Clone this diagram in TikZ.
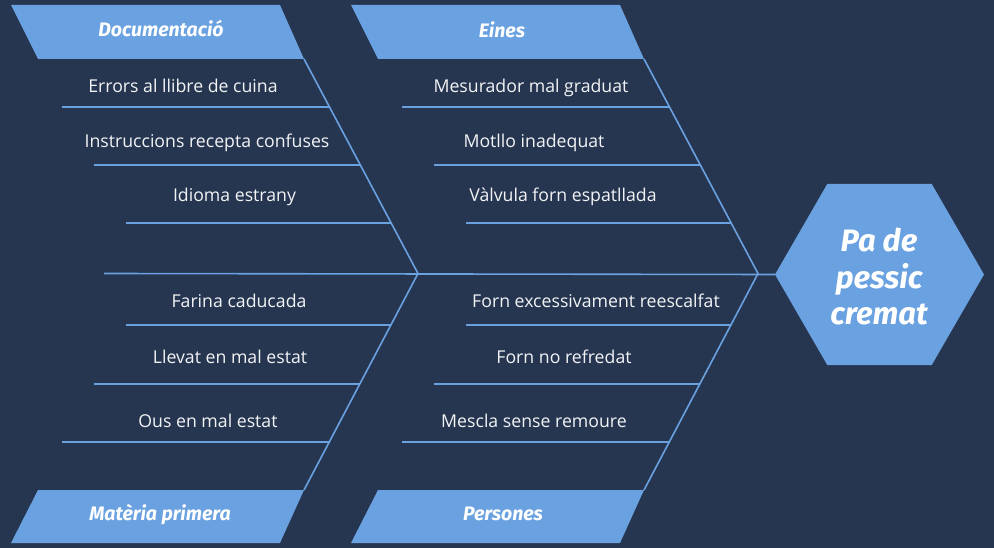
\documentclass[tikz,border=0pt]{standalone}
\usepackage{fontspec}
\setmainfont{Open Sans}
\newfontfamily\headfont{Fira Sans}
\usetikzlibrary{shapes.geometric}
\definecolor{navy}{RGB}{38,54,80}
\definecolor{fishblue}{RGB}{106,161,224}
\tikzset{
  bone/.style={draw=fishblue, line width=1.6pt},
  catbox/.style={fill=fishblue},
  cause/.style={anchor=base, text=white!94!navy, inner sep=0pt,
    font=\fontsize{17.7}{20}\selectfont},
  cathead/.style={anchor=base, text=white, inner sep=0pt,
    font=\headfont\bfseries\itshape\fontsize{19.5}{20}\selectfont},
}

\begin{document}
\begin{tikzpicture}[x=1pt,y=-1pt]
  \fill[navy] (0,0) rectangle (994,548);

  % category boxes
  \fill[catbox] (11,5) -- (280,5) -- (304,59) -- (38,59) -- cycle;
  \fill[catbox] (351,5) -- (620,5) -- (644,59) -- (378,59) -- cycle;
  \fill[catbox] (38,490) -- (304,490) -- (280,543) -- (11,543) -- cycle;
  \fill[catbox] (378,490) -- (644,490) -- (620,543) -- (351,543) -- cycle;
  \node[cathead] (doc) at (161,37) {Documentació};
  \node[cathead] (eines) at (502,37.5) {Eines};
  \node[cathead] (materia) at (160,520) {Matèria primera};
  \node[cathead] (persones) at (503,520.5) {Persones};

  % effect
  \node[regular polygon, regular polygon sides=6, minimum size=209pt,
    inner sep=0pt, fill=fishblue] (effect) at (879.5,274.5) {};
  \node[align=center, text=white, inner sep=0pt,
    font=\headfont\bfseries\itshape\fontsize{31}{36.5}\selectfont]
    (effectlabel) at (879,277) {Pa de\\pessic\\cremat};

  % spine and ribs
  \coordinate (tail) at (104,273.5);
  \coordinate (jleft) at (418,273.5);
  \coordinate (jmid) at (758,273.5);
  \coordinate (docend) at (304,59);
  \coordinate (einesend) at (644,59);
  \coordinate (materiaend) at (304,490);
  \coordinate (personesend) at (644,490);
  \draw[bone] (tail) -- (effect.west);
  \draw[bone] (docend) -- (jleft) -- (materiaend);
  \draw[bone] (einesend) -- (jmid) -- (personesend);

  % causes
  \draw[bone] (62,107) -- (330,107);
  \draw[bone] (94,165) -- (360,165);
  \draw[bone] (126,223) -- (391,223);
  \draw[bone] (126,325) -- (391,325);
  \draw[bone] (94,384) -- (360,384);
  \draw[bone] (62,442) -- (329,442);
  \draw[bone] (402,107) -- (670,107);
  \draw[bone] (434,165) -- (700,165);
  \draw[bone] (466,223) -- (731,223);
  \draw[bone] (466,325) -- (731,325);
  \draw[bone] (434,384) -- (700,384);
  \draw[bone] (402,442) -- (669,442);

  \node[cause] (c1) at (183,93) {Errors al llibre de cuina};
  \node[cause] (c2) at (207,148) {Instruccions recepta confuses};
  \node[cause] (c3) at (234.5,202) {Idioma estrany};
  \node[cause] (c4) at (239,308) {Farina caducada};
  \node[cause] (c5) at (230,363) {Llevat en mal estat};
  \node[cause] (c6) at (208,427) {Ous en mal estat};
  \node[cause] (c7) at (531,93) {Mesurador mal graduat};
  \node[cause] (c8) at (534,148) {Motllo inadequat};
  \node[cause] (c9) at (563,202) {Vàlvula forn espatllada};
  \node[cause] (c10) at (596,308) {Forn excessivament reescalfat};
  \node[cause] (c11) at (564,363) {Forn no refredat};
  \node[cause] (c12) at (534,427) {Mescla sense remoure};
\end{tikzpicture}
\end{document}
